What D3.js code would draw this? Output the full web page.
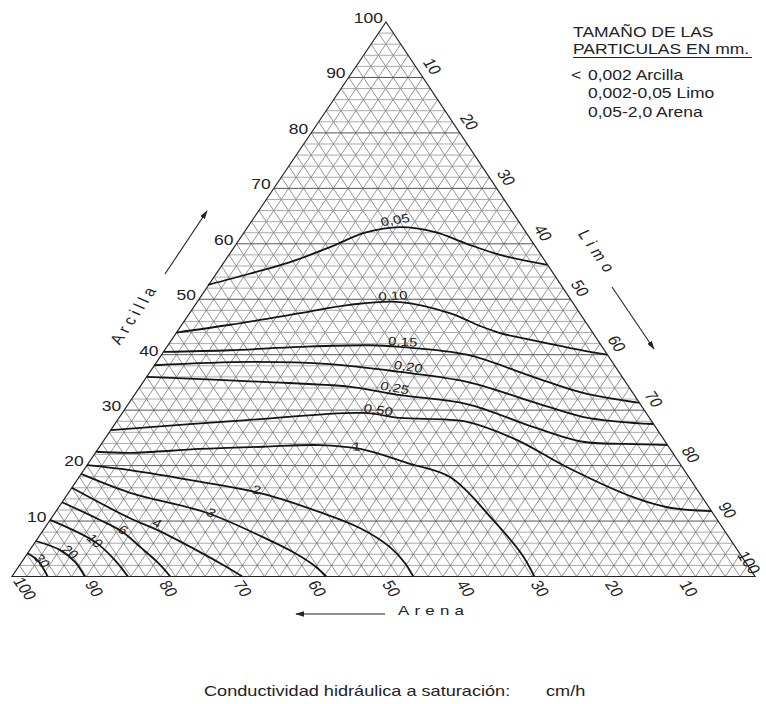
<!DOCTYPE html>
<html><head><meta charset="utf-8">
<script src="https://cdn.jsdelivr.net/npm/d3@7"></script>
<style>body{margin:0;background:#fff}svg{display:block}</style>
</head><body>
<svg id="c" width="766" height="704"></svg>
<script>
// ---- tick values ----
const clayTicks = [10,20,30,40,50,60,70,80,90,100];
const siltTicks = [10,20,30,40,50,60,70,80,90,100];
const sandTicks = [100,90,80,70,60,50,40,30,20,10];
const gridSteps = d3.range(2,100,2);

// ---- contour values (cm/h) and their paths as [sand %, clay %] ----
const contourNames = ["0,05","0,10","0,15","0,20","0,25","0,50","1","2","3","4","6","10","20","30"];
const k005 = [[47.5,52.6],[40.9,54.6],[34.4,56.7],[27.7,59.4],[21.7,62],[16.5,63],[12.2,62.1],[9,60],[5.5,58],[0,56.2]];
const k010 = [[56,44],[48.1,45.4],[37.6,47.5],[30.2,49],[23.2,49.5],[17.5,47.5],[14.6,45.2],[12.5,43.9],[9.1,42.7],[4.4,41.2],[0,40]];
const k015 = [[59.5,40.5],[50.4,40.8],[40.7,41.4],[31.1,41.7],[27.2,41.4],[18.9,40],[12,36],[6.7,33.1],[0,31.3]];
const k020 = [[61.9,38.1],[48.8,38.7],[38.2,38.3],[29.5,36.9],[21.3,35.1],[14.3,31.5],[8.9,28.8],[4.3,27.9],[0,27.5]];
const k025 = [[64,36],[48.8,35.1],[37.5,34.2],[31.5,32.7],[23.3,31.1],[16.5,27],[11.1,24.3],[5.6,23.9],[0,23.7]];
const k050 = [[73.6,26.4],[54.4,28.2],[38.1,29.5],[33.6,28.6],[24.9,27.9],[19.8,24.6],[15.5,19.7],[9.3,14.3],[5.3,12.4],[0,11.8]];
const k1   = [[77.5,22.5],[73,22.3],[63.3,23],[54.6,23.4],[46.8,23.7],[41.7,23],[36.7,20.5],[32.1,17.9],[30.2,10.2],[29.4,4],[29.7,0]];
const k2   = [[79.9,20.1],[74.6,19.2],[66.6,17.2],[58.8,14.9],[52.8,11.6],[48.8,8.7],[46.5,5.3],[45.9,2.4],[46,0]];
const k3   = [[81.5,18.5],[76.6,15.1],[68.1,11.5],[62.7,7.1],[59.8,4.2],[58.3,1.9],[57.7,0]];
const k4   = [[84,16],[78.9,10.5],[76.3,8.4],[72.5,4.4],[70.4,1.9],[69,0]];
const k6   = [[86.6,13.4],[83.1,10.2],[81.1,8],[80.1,5.3],[79.1,2.4],[78.7,0]];
const k10  = [[89.8,10.2],[85.7,6.2],[84.7,3],[84.4,0]];
const k20  = [[93.6,6.4],[91.2,4.8],[90.2,2.6],[90.2,0]];
const k30  = [[95.8,4.2],[95.1,2.8],[95.2,0]];
const contourPaths = [k005,k010,k015,k020,k025,k050,k1,k2,k3,k4,k6,k10,k20,k30];
const labelPos = [[16.5,64.3],[23.6,50.6],[26.4,42.3],[27.9,37.8],[31.6,34],[35.8,30],[42,23.4],[59.3,15.6],[67.5,11.5],[75.7,9.6],[80.9,8.4],[85.7,6.4],[90,4.4],[94.6,2.8]];

// ---- legend / titles ----
const legendTitle = ["TAMAÑO DE LAS","PARTICULAS EN mm."];
const legendRows = ["0,002 Arcilla","0,002-0,05 Limo","0,05-2,0 Arena"];
const footerText = "Conductividad hidráulica a saturación:";
const footerUnit = "cm/h";

// ---- ternary scales ----
const yScale = d3.scaleLinear().domain([0,100]).range([576.5,22]);   // clay -> y
const sandX = d3.scaleLinear().domain([0,100]).range([0,-743]);
const clayX = d3.scaleLinear().domain([0,100]).range([0,-369]);
const X0 = 755;
function proj(s,c){ return [X0 + sandX(s) + clayX(c), yScale(c)]; }

const K = 1.25; // horizontal stretch of lettering
function tf(x,y,theta){
  const t = (theta||0)*Math.PI/180;
  const a = Math.atan2(K*Math.sin(t), Math.cos(t))*180/Math.PI;
  return `translate(${x},${y}) scale(${K},1) rotate(${a})`;
}

const svg = d3.select("#c");
const FONT = "'Liberation Sans', Arial, Helvetica, sans-serif";

// grid
const grid = svg.append("g");
gridSteps.forEach(v=>{
  const major = v%10===0;
  let a = proj(100-v,v), b = proj(0,v);
  grid.append("line").attr("x1",a[0]).attr("y1",a[1]).attr("x2",b[0]).attr("y2",b[1])
    .attr("stroke", major?"#555":"#a0a0a0").attr("stroke-width", major?1:0.9);
  a = proj(v,0); b = proj(v,100-v);
  grid.append("line").attr("x1",a[0]).attr("y1",a[1]).attr("x2",b[0]).attr("y2",b[1])
    .attr("stroke","#5a5a5a").attr("stroke-width",0.65);
  a = proj(100-v,0); b = proj(0,100-v);
  grid.append("line").attr("x1",a[0]).attr("y1",a[1]).attr("x2",b[0]).attr("y2",b[1])
    .attr("stroke","#5a5a5a").attr("stroke-width",0.65);
});

// outline
const tri = [proj(100,0),proj(0,0),proj(0,100)];
svg.append("path").attr("d","M"+tri.map(p=>p.join(",")).join("L")+"Z")
  .attr("fill","none").attr("stroke","#222").attr("stroke-width",1.2);

// contours
const line = d3.line().x(d=>proj(d[0],d[1])[0]).y(d=>proj(d[0],d[1])[1]).curve(d3.curveCatmullRom.alpha(0.5));
contourPaths.forEach(p=>{
  svg.append("path").attr("d",line(p)).attr("fill","none").attr("stroke","#151515").attr("stroke-width",1.8);
});

// contour labels
contourNames.forEach((name,i)=>{
  const [lx,ly] = proj(labelPos[i][0],labelPos[i][1]);
  const pts = contourPaths[i].map(d=>proj(d[0],d[1]));
  let best=0, bd=1e9;
  for(let j=0;j<pts.length-1;j++){
    const mx=(pts[j][0]+pts[j+1][0])/2, my=(pts[j][1]+pts[j+1][1])/2;
    const dd=(mx-lx)**2+(my-ly)**2; if(dd<bd){bd=dd;best=j;}
  }
  let ang = Math.atan2(pts[best+1][1]-pts[best][1], pts[best+1][0]-pts[best][0])*180/Math.PI;
  ang = Math.max(-50,Math.min(50,ang));
  svg.append("text").attr("transform",tf(lx,ly,ang)).attr("text-anchor","middle")
    .attr("dominant-baseline","central").attr("font-family",FONT).attr("font-size",12)
    .attr("fill","#222").text(name);
});

// left ticks (Arcilla)
clayTicks.forEach(c=>{
  const [x,y] = proj(100-c,c);
  svg.append("text").attr("transform",tf(x-3,y-4,0)).attr("text-anchor","end")
    .attr("dominant-baseline","central").attr("font-family",FONT).attr("font-size",14)
    .attr("fill","#222").text(c);
});
// right ticks (Limo)
siltTicks.forEach(t=>{
  const [x,y] = proj(0,100-t);
  const dx = t===100?-6:9.5;
  const dy = t===100?-14:-11;
  svg.append("text").attr("transform",tf(x+dx,y+dy,55)).attr("text-anchor","middle")
    .attr("dominant-baseline","central").attr("font-family",FONT).attr("font-size",14)
    .attr("fill","#222").text(t);
});
// bottom ticks (Arena)
sandTicks.forEach(s=>{
  const [x,y] = proj(s,0);
  const off = s===100?13:8;
  svg.append("text").attr("transform",tf(x+off,y+12,55)).attr("text-anchor","middle")
    .attr("dominant-baseline","central").attr("font-family",FONT).attr("font-size",14)
    .attr("fill","#222").text(s);
});

// arrows
const defs = svg.append("defs");
defs.append("marker").attr("id","ah").attr("viewBox","0 0 10 10").attr("refX",9).attr("refY",5)
  .attr("markerWidth",9).attr("markerHeight",9).attr("orient","auto-start-reverse")
  .attr("markerUnits","userSpaceOnUse")
  .append("path").attr("d","M0,2 L10,5 L0,8 Z").attr("fill","#222");
function arrow(x1,y1,x2,y2){
  svg.append("line").attr("x1",x1).attr("y1",y1).attr("x2",x2).attr("y2",y2)
    .attr("stroke","#222").attr("stroke-width",1.1).attr("marker-end","url(#ah)");
}
arrow(165,274,207,211);
arrow(612,287,654,349);
arrow(385,614,296,614);

// axis titles
svg.append("text").attr("transform",tf(134,314,-56)).attr("text-anchor","middle")
  .attr("dominant-baseline","central").attr("font-family",FONT).attr("font-size",14)
  .attr("letter-spacing",4).attr("fill","#222").text("Arcilla");
svg.append("text").attr("transform",tf(598,253,55)).attr("text-anchor","middle")
  .attr("dominant-baseline","central").attr("font-family",FONT).attr("font-size",14)
  .attr("letter-spacing",5).attr("fill","#222").text("Limo");
svg.append("text").attr("transform",tf(398,615,0)).attr("text-anchor","start")
  .attr("font-family",FONT).attr("font-size",13.5)
  .attr("letter-spacing",4.2).attr("fill","#222").text("Arena");

// legend
svg.append("text").attr("transform",tf(573,36.5,0)).attr("font-family",FONT).attr("font-size",14)
  .attr("fill","#222").text(legendTitle[0]);
svg.append("text").attr("transform",tf(573,53.5,0)).attr("font-family",FONT).attr("font-size",14)
  .attr("fill","#222").text(legendTitle[1]);
svg.append("line").attr("x1",573).attr("x2",752).attr("y1",57.5).attr("y2",57.5)
  .attr("stroke","#222").attr("stroke-width",1.2);
svg.append("text").attr("transform",tf(571,80,0)).attr("font-family",FONT).attr("font-size",14)
  .attr("fill","#222").text("<");
legendRows.forEach((r,i)=>{
  svg.append("text").attr("transform",tf(588,80+i*18.3,0)).attr("font-family",FONT).attr("font-size",14)
    .attr("fill","#222").text(r);
});

// footer
svg.append("text").attr("transform",tf(204,696,0)).attr("font-family",FONT).attr("font-size",14.5)
  .attr("fill","#222").text(footerText);
svg.append("text").attr("transform",tf(546,696,0)).attr("font-family",FONT).attr("font-size",14.5)
  .attr("fill","#222").text(footerUnit);
</script>
</body></html>
